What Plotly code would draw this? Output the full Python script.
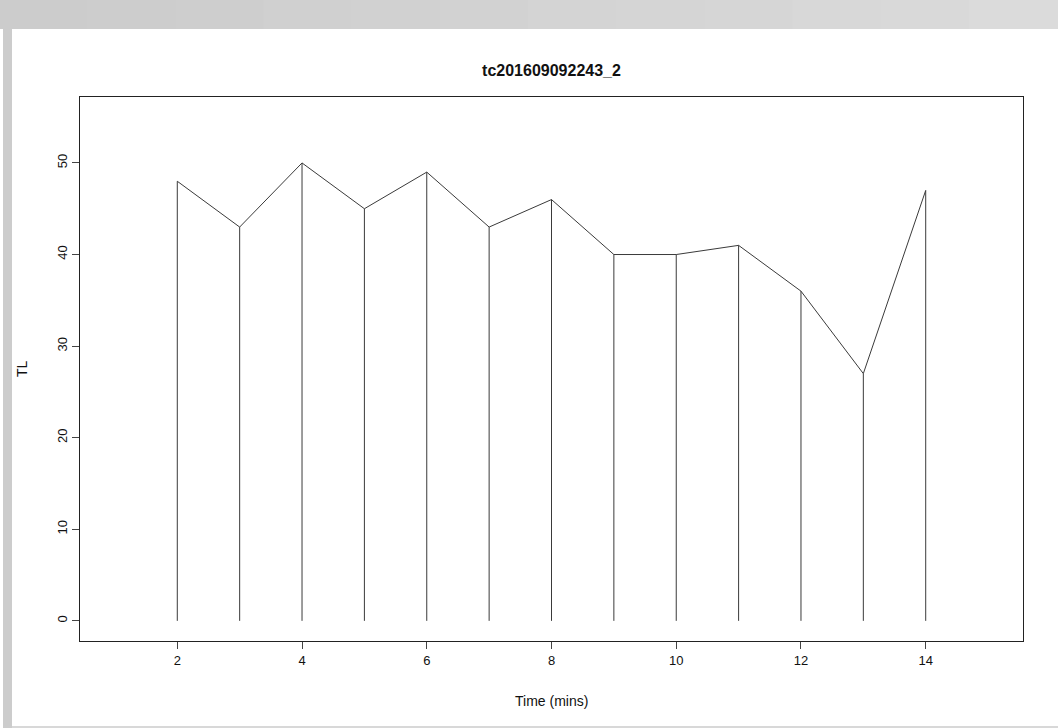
import plotly.graph_objects as go

time_mins = [2, 3, 4, 5, 6, 7, 8, 9, 10, 11, 12, 13, 14]
tl_values = [48, 43, 50, 45, 49, 43, 46, 40, 40, 41, 36, 27, 47]
x_ticks = [2, 4, 6, 8, 10, 12, 14]
y_ticks = [0, 10, 20, 30, 40, 50]
title_text = "tc201609092243_2"
x_title = "Time (mins)"
y_title = "TL"

W, H = 1058, 728
L, R, T, B = 80, 35, 97, 87
PW, PH = W - L - R, H - T - B

# vertical "h" type lines
hx, hy = [], []
for x, y in zip(time_mins, tl_values):
    hx += [x, x, None]
    hy += [0, y, None]

line_col = "#3a3a3a"
font_fam = "Liberation Sans, Arial, Helvetica, sans-serif"

fig = go.Figure()
fig.add_trace(go.Scatter(x=hx, y=hy, mode="lines",
                         line=dict(color=line_col, width=1), showlegend=False,
                         hoverinfo="skip"))
fig.add_trace(go.Scatter(x=time_mins, y=tl_values, mode="lines",
                         line=dict(color=line_col, width=1), showlegend=False))

axis_common = dict(showgrid=False, zeroline=False, showline=True, mirror=True,
                   linecolor="#222", linewidth=1, ticks="outside", ticklen=7,
                   tickcolor="#444", tickwidth=1,
                   tickfont=dict(family=font_fam, size=13, color="#111"))

# gray window frame (top band with slight gradient, left band, bottom line)
shapes = []
nseg = 12
for i in range(nseg):
    g = int(0xcc + (0xdb - 0xcc) * i / (nseg - 1))
    x0 = W * i / nseg - 1
    x1 = W * (i + 1) / nseg + 2
    shapes.append(dict(type="rect", xref="paper", yref="paper", layer="below",
                       x0=(x0 - L) / PW, x1=(x1 - L) / PW,
                       y0=1 + (T - 29) / PH, y1=1 + (T + 1) / PH,
                       fillcolor=f"rgb({g},{g},{g})", line=dict(width=0)))
shapes += [
    dict(type="rect", xref="paper", yref="paper", layer="below",
         x0=(3 - L) / PW, x1=(12 - L) / PW,
         y0=-B / PH, y1=1 + T / PH,
         fillcolor="#cccccc", line=dict(width=0)),
    dict(type="rect", xref="paper", yref="paper", layer="below",
         x0=(12 - L) / PW, x1=(W - L) / PW,
         y0=-B / PH, y1=(-B + 2) / PH,
         fillcolor="#d8d8d8", line=dict(width=0)),
]

fig.update_layout(
    width=W, height=H,
    margin=dict(l=L, r=R, t=T, b=B),
    paper_bgcolor="white", plot_bgcolor="white",
    xaxis=dict(range=[0.44, 15.56], tickvals=x_ticks, **axis_common),
    yaxis=dict(range=[-2.2, 57.2], tickvals=y_ticks, tickangle=-90, **axis_common),
    title=dict(text="<b>" + title_text + "</b>", x=(L + (W - R)) / 2 / W, xanchor="center",
               y=1 - 70 / H, yanchor="middle", yref="container",
               font=dict(family=font_fam, size=16, color="#111")),
    shapes=shapes,
    annotations=[
        dict(text=x_title, xref="paper", yref="paper", x=0.5, y=-(701 - (H - B)) / PH,
             xanchor="center", yanchor="middle", showarrow=False,
             font=dict(family=font_fam, size=14, color="#111")),
        dict(text=y_title, xref="paper", yref="paper", x=-(L - 22) / PW, y=0.5,
             xanchor="center", yanchor="middle", textangle=-90, showarrow=False,
             font=dict(family=font_fam, size=14, color="#111")),
    ],
)

fig.write_html("out.html", config={"displayModeBar": False},
               post_script="document.body.style.margin='0';document.body.style.padding='0';")
